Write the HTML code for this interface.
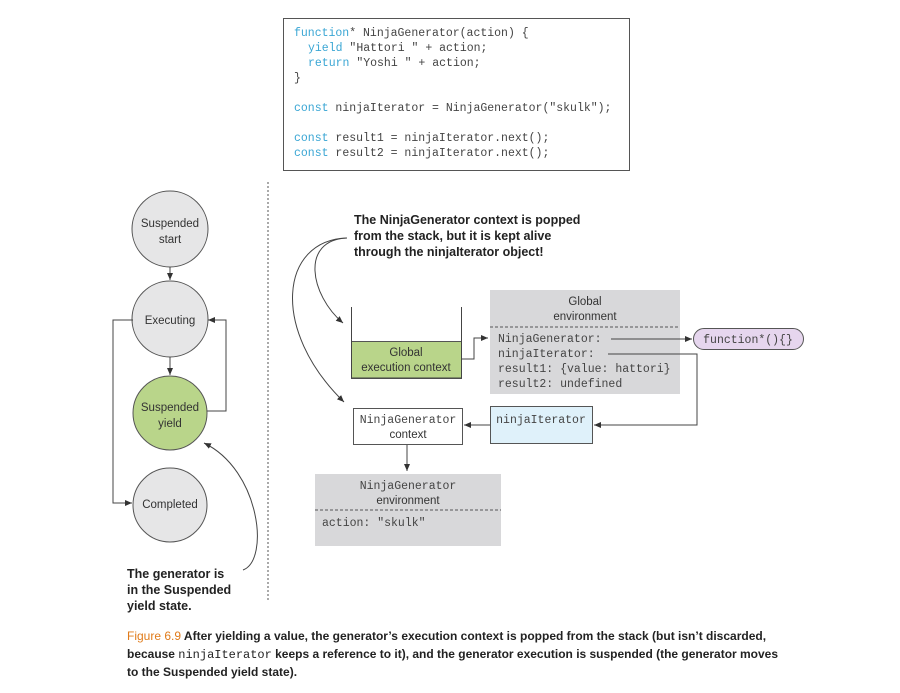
<!DOCTYPE html>
<html><head><meta charset="utf-8"><style>
html,body{margin:0;padding:0;background:#fff;width:900px;height:693px;overflow:hidden}
svg{display:block}
.m{font-family:"Liberation Mono",monospace;font-size:11.5px;fill:#444}
.s{font-family:"Liberation Sans",sans-serif;font-size:11.5px;fill:#333}
.b{font-family:"Liberation Sans",sans-serif;font-size:12.5px;font-weight:bold;fill:#222}
.k{fill:#3aa6d4}
.c{font-family:"Liberation Sans",sans-serif;font-size:12px;font-weight:bold;fill:#222}
</style></head><body>
<svg width="900" height="693" viewBox="0 0 900 693">
<defs><marker id="a" markerWidth="8" markerHeight="8" refX="7" refY="4" orient="auto" markerUnits="userSpaceOnUse"><path d="M0,1 L7,4 L0,7z" fill="#333"/></marker></defs>
<!-- code -->
<rect x="283.5" y="18.5" width="346" height="152" fill="#fff" stroke="#555" stroke-width="1"/>
<text class="m" x="294" y="36"><tspan class="k">function</tspan>* NinjaGenerator(action) {</text>
<text class="m" x="294" y="51">  <tspan class="k" x="308">yield</tspan> "Hattori " + action;</text>
<text class="m" x="294" y="66"><tspan class="k" x="308">return</tspan> "Yoshi " + action;</text>
<text class="m" x="294" y="81">}</text>
<text class="m" x="294" y="111"><tspan class="k">const</tspan> ninjaIterator = NinjaGenerator("skulk");</text>
<text class="m" x="294" y="141"><tspan class="k">const</tspan> result1 = ninjaIterator.next();</text>
<text class="m" x="294" y="156"><tspan class="k">const</tspan> result2 = ninjaIterator.next();</text>
<!-- divider -->
<line x1="268" y1="182" x2="268" y2="600" stroke="#555" stroke-dasharray="2,2"/>
<!-- state circles -->
<g stroke="#555" stroke-width="1">
<circle cx="170" cy="229" r="38" fill="#e6e6e7"/>
<circle cx="170" cy="319" r="38" fill="#e6e6e7"/>
<circle cx="170" cy="413" r="37" fill="#b9d58a"/>
<circle cx="170" cy="505" r="37" fill="#e6e6e7"/>
</g>
<text class="s" x="170" y="227" text-anchor="middle">Suspended</text>
<text class="s" x="170" y="243" text-anchor="middle">start</text>
<text class="s" x="170" y="324" text-anchor="middle">Executing</text>
<text class="s" x="170" y="411" text-anchor="middle">Suspended</text>
<text class="s" x="170" y="427" text-anchor="middle">yield</text>
<text class="s" x="170" y="508" text-anchor="middle">Completed</text>
<g stroke="#444" fill="none" stroke-width="1">
<line x1="170" y1="267" x2="170" y2="280" marker-end="url(#a)"/>
<line x1="170" y1="357" x2="170" y2="375" marker-end="url(#a)"/>
<polyline points="133,320 113,320 113,503 132,503" marker-end="url(#a)"/>
<polyline points="207,411 226,411 226,320 208,320" marker-end="url(#a)"/>
<path d="M243,570 C270,560 260,470 204,443" marker-end="url(#a)"/>
<path d="M347,238 C300,240 310,295 343,323" marker-end="url(#a)"/>
<path d="M347,238 C280,240 270,330 344,402" marker-end="url(#a)"/>
</g>
<text class="b" x="127" y="578">The generator is</text>
<text class="b" x="127" y="594">in the Suspended</text>
<text class="b" x="127" y="610">yield state.</text>
<text class="b" x="354" y="224">The NinjaGenerator context is popped</text>
<text class="b" x="354" y="240">from the stack, but it is kept alive</text>
<text class="b" x="354" y="256">through the ninjaIterator object!</text>
<!-- stack -->
<rect x="351.5" y="341.5" width="110" height="37" fill="#b9d58a" stroke="#555"/>
<polyline points="351.5,307 351.5,378 461.5,378 461.5,307" fill="none" stroke="#444"/>
<text class="s" x="406" y="356" text-anchor="middle">Global</text>
<text class="s" x="406" y="371" text-anchor="middle">execution context</text>
<polyline points="462,359 474,359 474,338 488,338" fill="none" stroke="#444" marker-end="url(#a)"/>
<!-- global env -->
<rect x="490" y="290" width="190" height="104" fill="#d8d8da"/>
<line x1="490" y1="327" x2="680" y2="327" stroke="#555" stroke-dasharray="3,2"/>
<text class="s" x="585" y="305" text-anchor="middle">Global</text>
<text class="s" x="585" y="320" text-anchor="middle">environment</text>
<text class="m" x="498" y="342">NinjaGenerator:</text>
<text class="m" x="498" y="357">ninjaIterator:</text>
<text class="m" x="498" y="372">result1: {value: hattori}</text>
<text class="m" x="498" y="387">result2: undefined</text>
<line x1="611" y1="339" x2="692" y2="339" stroke="#444" marker-end="url(#a)"/>
<rect x="693.5" y="328.5" width="110" height="21" rx="10.5" fill="#e6d6ee" stroke="#555"/>
<text class="m" x="748" y="343" text-anchor="middle">function*(){}</text>
<polyline points="608,354 697,354 697,425 594,425" fill="none" stroke="#444" marker-end="url(#a)"/>
<rect x="490.5" y="406.5" width="102" height="37" fill="#dff1fa" stroke="#555"/>
<text class="m" x="541" y="423" text-anchor="middle">ninjaIterator</text>
<rect x="353.5" y="408.5" width="109" height="36" fill="#fff" stroke="#555"/>
<text class="m" x="408" y="423" text-anchor="middle">NinjaGenerator</text>
<text class="s" x="408" y="438" text-anchor="middle">context</text>
<line x1="490" y1="425" x2="464" y2="425" stroke="#444" marker-end="url(#a)"/>
<line x1="407" y1="445" x2="407" y2="471" stroke="#444" marker-end="url(#a)"/>
<rect x="315" y="474" width="186" height="72" fill="#d8d8da"/>
<line x1="315" y1="510" x2="501" y2="510" stroke="#555" stroke-dasharray="3,2"/>
<text class="m" x="408" y="489" text-anchor="middle">NinjaGenerator</text>
<text class="s" x="408" y="504" text-anchor="middle">environment</text>
<text class="m" x="322" y="526">action: "skulk"</text>
<!-- caption -->
<text class="c" x="127" y="640"><tspan fill="#e07b1a" font-weight="normal">Figure 6.9</tspan>   After yielding a value, the generator’s execution context is popped from the stack (but isn’t discarded,</text>
<text class="c" x="127" y="658" textLength="651" lengthAdjust="spacingAndGlyphs">because <tspan font-family="Liberation Mono" font-weight="normal">ninjaIterator</tspan> keeps a reference to it), and the generator execution is suspended (the generator moves</text>
<text class="c" x="127" y="676">to the Suspended yield state).</text>
</svg>
</body></html>
